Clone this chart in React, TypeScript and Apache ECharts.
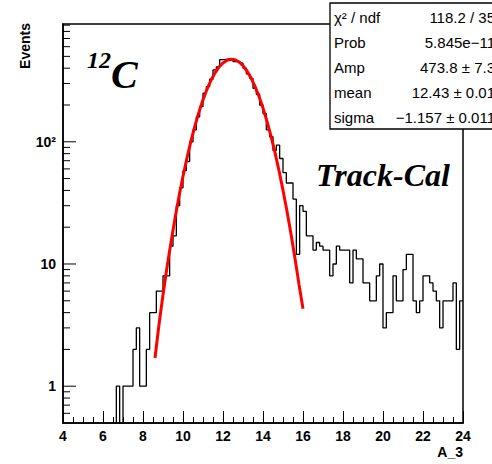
import React, { useEffect, useRef } from "react";
import * as echarts from "echarts";

// Histogram: 120 bins of width 1/6 from 4 to 24 (counts)
const binStart = 4;
const binsPerUnit = 6;
const counts = [
  0, 0, 0, 0, 0, 0, 0, 0, 0, 0, 0, 0, 0, 0, 0, 0,
  1, 0, 1, 1, 1, 2, 3, 1, 1, 2, 4, 4, 6, 6, 8, 8,
  14, 17, 30, 42, 58, 69, 100, 125, 160, 194, 250, 283, 325, 387, 410, 470,
  473, 475, 473, 453, 453, 440, 400, 360, 330, 274, 245, 200, 170, 125, 110, 85,
  94, 73, 56, 46, 46, 34, 12, 30, 27, 17, 17, 13, 15, 14, 13, 13,
  8, 10, 14, 13, 13, 13, 7, 13, 11, 11, 7, 7, 5, 5, 8, 10,
  3, 4, 4, 8, 5, 5, 9, 12, 12, 5, 4, 5, 8, 8, 7, 6,
  5, 3, 5, 5, 5, 7, 2, 5,
];

// Gaussian fit curve as drawn
const fitX = [8.6, 8.8, 9.0, 9.2, 9.4, 9.6, 9.8, 10.0, 10.2, 10.4, 10.6, 10.8, 11.0, 11.2, 11.4, 11.6, 11.8, 12.0, 12.2, 12.4, 12.6, 12.8, 13.0, 13.2, 13.4, 13.6, 13.8, 14.0, 14.2, 14.4, 14.6, 14.8, 15.0, 15.2, 15.4, 15.6, 15.8, 16.0];
const fitY = [1.7, 3.2, 5.6, 9.4, 15.1, 23.6, 35.8, 52.2, 73.9, 101.6, 135.6, 175.6, 220.7, 269.3, 318.8, 366.3, 408.5, 442.2, 464.5, 473.7, 468.7, 450.1, 419.6, 379.7, 333.4, 284.1, 235.0, 188.7, 147.0, 111.2, 81.6, 58.1, 40.2, 27.0, 17.6, 11.1, 6.81, 4.3];

const xMin = 4;
const xMax = 24;
const yMin = 0.5;
const yMax = 920;

const yTickValues = [0.6, 0.7, 0.8, 0.9, 1, 2, 3, 4, 5, 6, 7, 8, 9, 10, 20, 30, 40, 50, 60, 70, 80, 90, 100, 200, 300, 400, 500, 600, 700, 800, 900];

const statLabels = ["χ² / ndf", "Prob", "Amp", "mean", "sigma"];
const statValues = ["118.2 / 35", "5.845e−11", "473.8 ± 7.3", "12.43 ± 0.01", "−1.157 ± 0.011"];

const SANS = '"Liberation Sans", Arial, Helvetica, sans-serif';
const SERIF = '"Liberation Serif", "Times New Roman", serif';

function isDecade(v: number) {
  const l = Math.log10(v);
  return Math.abs(l - Math.round(l)) < 1e-6;
}

export default function App() {
  const ref = useRef<HTMLDivElement>(null);

  useEffect(() => {
    if (!ref.current) return;
    const chart = echarts.init(ref.current, undefined, { renderer: "svg" });

    const histData: number[][] = counts.map((c, k) => [binStart + k / binsPerUnit, c > 0 ? c : 0.05]);
    histData.push([xMax, counts[counts.length - 1]]);

    const fitData = fitX.map((x, i) => [x, fitY[i]]);

    const statGraphics: any[] = [];
    statGraphics.push({
      type: "rect",
      z: 100,
      shape: { x: 330, y: 3, width: 200, height: 126 },
      style: { fill: "#fff", stroke: "#000", lineWidth: 1.3 },
    });
    statLabels.forEach((lab, i) => {
      const y = 17 + i * 25;
      statGraphics.push({
        type: "text",
        z: 101,
        x: 334,
        y,
        style: { text: lab, font: `15px ${SANS}`, fill: "#000", align: "left", verticalAlign: "middle", textAlign: "left", textVerticalAlign: "middle" },
      });
      statGraphics.push({
        type: "text",
        z: 101,
        x: 495,
        y,
        style: { text: statValues[i], font: `15px ${SANS}`, fill: "#000", align: "right", verticalAlign: "middle", textAlign: "right", textVerticalAlign: "middle" },
      });
    });

    const option: any = {
      animation: false,
      backgroundColor: "#fff",
      grid: {
        left: 63,
        top: 24,
        width: 400,
        height: 399,
        show: true,
        borderColor: "#000",
        borderWidth: 1.5,
        backgroundColor: "transparent",
        containLabel: false,
        outerBoundsMode: "none",
      },
      xAxis: {
        type: "value",
        min: xMin,
        max: xMax,
        interval: 2,
        axisLine: { show: true, onZero: false, lineStyle: { color: "#000", width: 1.5 } },
        axisTick: { show: true, inside: true, length: 12, lineStyle: { color: "#000", width: 1 } },
        minorTick: { show: true, splitNumber: 4, length: 6, lineStyle: { color: "#000", width: 1 } },
        splitLine: { show: false },
        minorSplitLine: { show: false },
        axisLabel: { color: "#000", fontFamily: SANS, fontWeight: "bold", fontSize: 14, margin: 6 },
      },
      yAxis: {
        type: "log",
        logBase: 10,
        min: yMin,
        max: yMax,
        axisLine: { show: true, onZero: false, lineStyle: { color: "#000", width: 1.5 } },
        axisTick: { show: false },
        minorTick: { show: false },
        splitLine: { show: false },
        axisLabel: {
          color: "#000",
          fontFamily: SANS,
          fontWeight: "bold",
          fontSize: 14,
          margin: 7,
          showMinLabel: false,
          showMaxLabel: false,
          formatter: (v: number) => {
            if (!isDecade(v)) return "";
            const e = Math.round(Math.log10(v));
            if (e === 0) return "1";
            if (e === 1) return "10";
            if (e === 2) return "10²";
            return "";
          },
        },
      },
      graphic: [
        {
          type: "text",
          x: 25,
          y: 23,
          rotation: Math.PI / 2,
          style: { text: "Events", font: `bold 14px ${SANS}`, fill: "#000", align: "right", verticalAlign: "middle", textAlign: "right", textVerticalAlign: "middle" },
        },
        {
          type: "text",
          x: 463,
          y: 452,
          style: { text: "A_3", font: `bold 14px ${SANS}`, fill: "#000", align: "right", verticalAlign: "middle", textAlign: "right", textVerticalAlign: "middle" },
        },
        {
          type: "text",
          x: 87,
          y: 60,
          style: { text: "12", font: `italic bold 24px ${SERIF}`, fill: "#000", align: "left", verticalAlign: "middle", textAlign: "left", textVerticalAlign: "middle" },
        },
        {
          type: "text",
          x: 111,
          y: 74,
          style: { text: "C", font: `italic bold 40px ${SERIF}`, fill: "#000", align: "left", verticalAlign: "middle", textAlign: "left", textVerticalAlign: "middle" },
        },
        {
          type: "text",
          x: 316,
          y: 175,
          style: { text: "Track-Cal", font: `italic bold 32px ${SERIF}`, fill: "#000", align: "left", verticalAlign: "middle", textAlign: "left", textVerticalAlign: "middle" },
        },
        ...statGraphics,
      ],
      series: [
        {
          type: "line",
          data: histData,
          step: "end",
          showSymbol: false,
          symbol: "none",
          clip: true,
          lineStyle: { color: "#000", width: 1.3 },
          z: 3,
        },
        {
          type: "line",
          data: fitData,
          showSymbol: false,
          symbol: "none",
          smooth: false,
          clip: true,
          lineStyle: { color: "#ff0000", width: 3 },
          z: 4,
        },
        {
          type: "custom",
          data: yTickValues.map((v) => [xMin, v]),
          clip: false,
          silent: true,
          z: 5,
          renderItem: (params: any, api: any) => {
            const v = api.value(1);
            const p = api.coord([xMin, v]);
            const len = isDecade(v) ? 13 : 7;
            return {
              type: "line",
              shape: { x1: p[0], y1: p[1], x2: p[0] + len, y2: p[1] },
              style: { stroke: "#000", lineWidth: 1 },
            };
          },
        },
      ],
    };

    chart.setOption(option);
    return () => chart.dispose();
  }, []);

  return (
    <div
      ref={ref}
      style={{ position: "fixed", left: 0, top: 0, width: 492, height: 464, background: "#fff" }}
    />
  );
}
